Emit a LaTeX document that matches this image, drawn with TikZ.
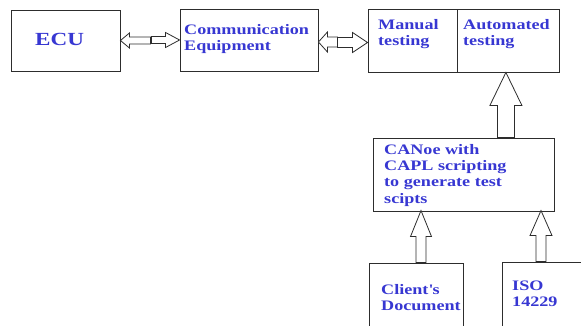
\documentclass[tikz,border=0pt]{standalone}
\usepackage{fontspec}
\setmainfont{Liberation Serif}[FakeStretch=1.25]
\usetikzlibrary{positioning}
\definecolor{labelblue}{RGB}{55,55,210}
\definecolor{edgegray}{RGB}{45,45,45}
\tikzset{
  box/.style={draw=edgegray, line width=0.9pt, inner sep=0pt},
  lbl/.style={text=labelblue, font=\fontsize{14.5}{16}\selectfont\bfseries, align=left, inner sep=0pt, anchor=base west},
  hollow/.style={draw=edgegray, fill=white, line width=0.8pt, line join=miter}
}

\begin{document}
\begin{tikzpicture}[x=1pt, y=-1pt]
  \useasboundingbox (0,0) rectangle (581,326);
  \clip (0,0) rectangle (581,326);
  % boxes
  \node[box, minimum width=109pt, minimum height=61pt] (ecu)    at (65.5,40.5)  {};
  \node[box, minimum width=138pt, minimum height=62pt] (comm)   at (249,40)     {};
  \node[box, minimum width=89pt,  minimum height=63pt] (manual) at (412.5,40.5) {};
  \node[box, minimum width=102pt, minimum height=63pt, right=0pt of manual] (auto) {};
  \node[box, minimum width=181pt, minimum height=73pt] (canoe)  at (463.5,174.5) {};
  \node[box, minimum width=94pt,  minimum height=90pt] (client) at (416,308)    {};
  \node[box, minimum width=98pt,  minimum height=90pt] (iso)    at (551,307)    {};
  % texts (anchored at the baseline of the last line)
  \node[lbl, font=\fontsize{18.5}{20}\selectfont\bfseries] (ecutxt) at (35,46) {ECU};
  \node[lbl] (commtxt)   at (184,50.5)  {Communication\\Equipment};
  \node[lbl] (manualtxt) at (378,45.5)  {Manual\\testing};
  \node[lbl] (autotxt)   at (463,46)    {Automated\\testing};
  \node[lbl] (canoetxt)  at (384,203)   {CANoe with\\CAPL scripting\\to generate test\\scipts};
  \node[lbl] (clienttxt) at (381,310.5) {Client\textquotesingle s\\Document};
  \node[lbl] (isotxt)    at (512,306)   {ISO\\14229};
  % hollow arrows
  \draw[hollow] (ecu.east) -- ++(9,-7.5) -- ++(0,4) -- ++(21,0) -- ++(0,7) -- ++(-21,0) -- ++(0,4) -- cycle;
  \draw[hollow] (comm.west) -- ++(-14,-7.5) -- ++(0,4) -- ++(-14,0) -- ++(0,7) -- ++(14,0) -- ++(0,4) -- cycle;
  \draw[hollow] ([yshift=-2pt]comm.east) -- ++(9,-10) -- ++(0,5) -- ++(10,0) -- ++(0,10) -- ++(-10,0) -- ++(0,5) -- cycle;
  \draw[hollow] ([yshift=-2pt]manual.west) -- ++(-15,-10) -- ++(0,5) -- ++(-15,0) -- ++(0,10) -- ++(15,0) -- ++(0,5) -- cycle;
  \draw[hollow] ([xshift=-3pt]auto.south) -- ++(16,33) -- ++(-7.5,0) -- ++(0,32) -- ++(-17,0) -- ++(0,-32) -- ++(-7.5,0) -- cycle;
  \draw[hollow] ([xshift=5pt]client.north) ++(-5,0) -- ++(0,-26) -- ++(-5.5,0) -- ++(10.5,-26) -- ++(10.5,26) -- ++(-5.5,0) -- ++(0,26) -- cycle;
  \draw[hollow] ([xshift=-10pt]iso.north) ++(-5,0) -- ++(0,-26) -- ++(-6,0) -- ++(11,-25) -- ++(11,25) -- ++(-6,0) -- ++(0,26) -- cycle;
\end{tikzpicture}
\end{document}
